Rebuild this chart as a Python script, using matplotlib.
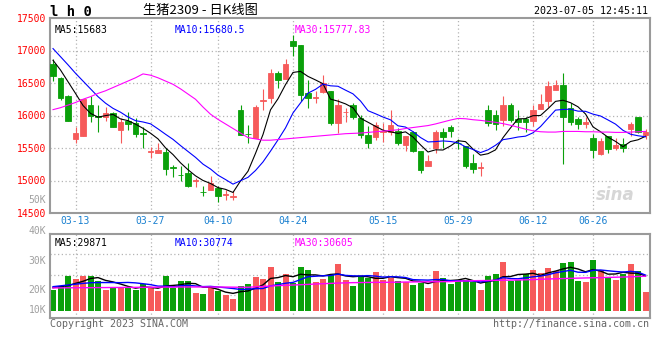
import numpy as np
import pandas as pd
import matplotlib
matplotlib.use('Agg')
import matplotlib.pyplot as plt

# daily K data, 2023-03-08 .. 2023-07-05 (80 sessions)
opens = [16796, 16577, 16296, 15638, 15689, 16158, 15995, 15980, 16041, 15776,
         15914, 15878, 15725, 15440, 15429, 15445, 15200, 15087, 15118, 14990,
         14825, 14848, 14883, 14776, 14751, 16092, 15720, 15649, 16230, 16276,
         16653, 16556, 17153, 17077, 16347, 16271, 16362, 16373, 15888, 16051,
         16158, 15965, 15700, 15674, 15745, 15750, 15761, 15546, 15740, 15455,
         15230, 15496, 15740, 15817, 15577, 15531, 15266, 15195, 16092, 16005,
         15929, 16169, 15939, 15939, 15914, 16097, 16220, 16388, 16464, 16108,
         15939, 15868, 15649, 15404, 15684, 15496, 15562, 15791, 15980, 15700]
highs = [16872, 16590, 16322, 15827, 16260, 16296, 16169, 16133, 16056, 15954,
         16056, 15965, 15827, 15521, 15572, 15506, 15240, 15225, 15266, 15036,
         14909, 15072, 14909, 14858, 14832, 16158, 15853, 16169, 16414, 16720,
         16679, 16862, 17245, 17077, 16541, 16373, 16628, 16373, 16260, 16118,
         16199, 16005, 15837, 15903, 15878, 16082, 15801, 15689, 15761, 15455,
         15394, 15776, 15801, 15853, 15638, 15531, 15404, 15291, 16158, 16082,
         16296, 16199, 16092, 15980, 16169, 16337, 16526, 16541, 16658, 16199,
         15980, 15980, 15715, 15649, 15684, 15659, 15649, 15893, 15980, 15791]
lows = [16526, 16235, 15914, 15572, 15689, 15903, 15740, 15914, 15817, 15572,
        15776, 15674, 15495, 15352, 15419, 15087, 15047, 14996, 14894, 14894,
        14756, 14848, 14664, 14705, 14695, 15700, 15572, 15649, 16082, 16194,
        16424, 16556, 16923, 16220, 16108, 16194, 16352, 15853, 15735, 15903,
        15944, 15659, 15506, 15623, 15597, 15700, 15546, 15455, 15434, 15123,
        15230, 15419, 15506, 15674, 15480, 15190, 15123, 15062, 15842, 15776,
        15842, 15903, 15776, 15740, 15842, 16097, 16133, 16388, 15256, 15852,
        15791, 15812, 15353, 15394, 15429, 15470, 15445, 15689, 15725, 15638]
closes = [16602, 16271, 15914, 15735, 16250, 15995, 15980, 16031, 15827, 15903,
          15863, 15710, 15710, 15450, 15470, 15174, 15190, 15077, 14919, 15000,
          14817, 14960, 14756, 14786, 14761, 15700, 15710, 16128, 16240, 16658,
          16551, 16796, 17066, 16322, 16271, 16281, 16505, 15878, 16169, 16061,
          15980, 15700, 15572, 15853, 15765, 15853, 15582, 15689, 15455, 15164,
          15302, 15750, 15674, 15766, 15570, 15230, 15179, 15205, 15878, 15863,
          16169, 15929, 15903, 15893, 16092, 16184, 16454, 16464, 15980, 15903,
          15868, 15903, 15470, 15608, 15480, 15547, 15496, 15868, 15740, 15750]
volumes = [22683, 24797, 29512, 28049, 29512, 29512, 27073, 22683, 24309, 24309,
           23821, 22683, 25447, 23496, 22195, 29512, 23821, 27073, 27073, 21382,
           20569, 23821, 22195, 20244, 18293, 24634, 25610, 29187, 28049, 34065,
           26748, 30650, 26260, 34065, 32439, 26748, 28049, 30000, 35366, 27561,
           24797, 29512, 28374, 31626, 27561, 28699, 27236, 26748, 25122, 26260,
           23821, 31951, 28699, 25773, 27561, 27561, 26748, 22683, 29512, 30488,
           36341, 27236, 27561, 30488, 32439, 31138, 33415, 31951, 35854, 36341,
           27073, 26585, 37317, 32276, 28699, 27561, 30650, 35366, 31951, 21870]

# moving-average values before a full window exists
ma5_head = [16850, 16700, 16520, 16340]
ma10_head = [17030, 16905, 16780, 16650, 16530, 16410, 16290, 16190, 16110]
ma30 = [16090, 16120, 16160, 16200, 16250, 16290, 16340, 16380, 16430, 16480,
        16530, 16580, 16640, 16620, 16580, 16530, 16480, 16410, 16330, 16250,
        16130, 16020, 15940, 15870, 15800, 15730, 15660, 15640, 15620, 15620,
        15630, 15640, 15650, 15660, 15670, 15680, 15690, 15700, 15710, 15720,
        15725, 15730, 15740, 15750, 15760, 15770, 15780, 15800, 15815, 15830,
        15845, 15870, 15900, 15930, 15955, 15950, 15935, 15925, 15910, 15895,
        15875, 15850, 15820, 15790, 15765, 15750, 15745, 15745, 15755, 15755,
        15755, 15750, 15750, 15745, 15745, 15740, 15740, 15745, 15750, 15755]
vma5_head = [23800, 24300, 24800, 25900]
vma10_head = [24300, 24700, 25100, 25500, 25900, 26200, 26300, 26300, 26300]
vma30 = [23700, 23700, 23750, 23750, 23800, 23800, 23850, 23850, 23900, 23900,
         23950, 23950, 24000, 24000, 24050, 24100, 24100, 24150, 24150, 24150,
         24150, 24150, 24100, 24100, 24050, 24000, 24000, 24200, 24400, 24600,
         24800, 24950, 25100, 25250, 25400, 25600, 25750, 25900, 26050, 26150,
         26260, 26300, 26350, 26400, 26400, 26450, 26500, 26550, 26600, 26650,
         26700, 26700, 26750, 26750, 27000, 27100, 27200, 27250, 27300, 27400,
         27450, 27500, 27550, 27650, 27750, 27900, 28050, 28150, 28250, 28350,
         28450, 28550, 28650, 28700, 28800, 28900, 29000, 29100, 29250, 29400]

tick_idx = [3, 13, 22, 32, 44, 54, 64, 72]
tick_labels = ['03-13', '03-27', '04-10', '04-24', '05-15', '05-29', '06-12', '06-26']
price_ticks = [14500, 15000, 15500, 16000, 16500, 17000, 17500]

RED = '#f65a5a'
GREEN = '#0aa00a'
DATE_BLUE = '#1a80d0'
FRAME = '#9a9a9a'
GRID = '#b4b4b4'
MONO = 'DejaVu Sans Mono'


def rolling_with_head(values, n, head):
    s = pd.Series(values, dtype=float).rolling(n).mean()
    s.iloc[:len(head)] = head
    return s.values


ma5 = rolling_with_head(closes, 5, ma5_head)
ma10 = rolling_with_head(closes, 10, ma10_head)
vma5 = rolling_with_head(volumes, 5, vma5_head)
vma10 = rolling_with_head(volumes, 10, vma10_head)

x = np.arange(len(closes))
o = np.array(opens)
c = np.array(closes)
up = c >= o
colors = np.where(up, RED, GREEN)

W, H = 660, 360
fig = plt.figure(figsize=(6.6, 3.6), dpi=100)


def rect(x0, y0, x1, y1):
    return [x0 / W, 1 - y1 / H, (x1 - x0) / W, (y1 - y0) / H]


ax = fig.add_axes(rect(50, 18, 650, 213))
axv = fig.add_axes(rect(50, 234, 650, 318))

for a in (ax, axv):
    a.set_xlim(-0.4, 79.6)
    for sp in a.spines.values():
        sp.set_color(FRAME)
        sp.set_linewidth(1.5)
    a.tick_params(length=0)
    for t in tick_idx:
        a.axvline(t, color=GRID, lw=0.9, ls=(0, (1, 2)), zorder=0)

# price panel
ax.set_ylim(14500, 17500)
for p in price_ticks[1:-1]:
    ax.axhline(p, color=GRID, lw=0.9, ls=(0, (1, 2)), zorder=0)
ax.vlines(x, lows, highs, colors=colors, lw=0.8, zorder=2)
ax.bar(x, np.abs(c - o), bottom=np.minimum(o, c), width=0.78,
       color=colors, edgecolor=colors, linewidth=0.6, zorder=3)
ax.plot(x, ma5, color='black', lw=0.8, zorder=4)
ax.plot(x, ma10, color='#0000ff', lw=0.8, zorder=4)
ax.plot(x, ma30, color='#ff00ff', lw=0.8, zorder=4)

ax.set_yticks(price_ticks)
ax.set_yticklabels([str(p) for p in price_ticks], color='#ff0000',
                   fontsize=7, family=MONO)
ax.tick_params(axis='y', pad=3)
ax.set_xticks(tick_idx)
ax.set_xticklabels(tick_labels, color=DATE_BLUE, fontsize=7, family=MONO)
ax.tick_params(axis='x', pad=2.5)

ax.text(0.008, 0.965, 'MA5:15683', transform=ax.transAxes, fontsize=7,
        family=MONO, color='black', va='top')
ax.text(0.208, 0.965, 'MA10:15680.5', transform=ax.transAxes, fontsize=7,
        family=MONO, color='#0000ff', va='top')
ax.text(0.408, 0.965, 'MA30:15777.83', transform=ax.transAxes, fontsize=7,
        family=MONO, color='#ff00ff', va='top')
ax.text(0.975, 0.09, 'sina', transform=ax.transAxes, fontsize=12,
        style='italic', weight='bold', color='#d6d6d6', ha='right', va='center')

# volume panel
axv.set_ylim(9000, 50000)
for v in (20000, 30000, 40000):
    axv.axhline(v, color=GRID, lw=0.9, ls=(0, (1, 2)), zorder=0)
vol_floor = 12400
axv.bar(x, np.array(volumes) - vol_floor, bottom=vol_floor, width=0.8,
        color=colors, zorder=2)
axv.plot(x, vma5, color='black', lw=1.0, zorder=3)
axv.plot(x, vma10, color='#0000ff', lw=1.0, zorder=3)
axv.plot(x, vma30, color='#ff00ff', lw=1.0, zorder=3)
axv.set_xticks([])
axv.set_yticks([])
axv.text(0.008, 0.95, 'MA5:29871', transform=axv.transAxes, fontsize=7,
         family=MONO, color='black', va='top')
axv.text(0.208, 0.95, 'MA10:30774', transform=axv.transAxes, fontsize=7,
         family=MONO, color='#0000ff', va='top')
axv.text(0.408, 0.95, 'MA30:30605', transform=axv.transAxes, fontsize=7,
         family=MONO, color='#ff00ff', va='top')

# volume scale labels, placed where the source draws them
for lab, ypx in [('50K', 200), ('40K', 231), ('30K', 261), ('20K', 290), ('10K', 310)]:
    fig.text(46 / W, 1 - ypx / H, lab, fontsize=7, family=MONO,
             color='#a0a0a0', ha='right', va='center')

# header and footer
fig.text(50 / W, 1 - 11.5 / H, 'l h 0', fontsize=10, family=MONO,
         weight='bold', ha='left', va='center')
fig.text(200 / W, 1 - 10.5 / H, '生猪2309 - 日K线图', fontsize=9.5,
         family=['Noto Sans CJK SC', 'DejaVu Sans'], ha='center', va='center')
fig.text(648 / W, 1 - 11.5 / H, '2023-07-05 12:45:11', fontsize=7.2,
         family=MONO, ha='right', va='center')
fig.text(50 / W, 1 - 324 / H, 'Copyright 2023 SINA.COM', fontsize=7.2,
         family=MONO, color='#666666', ha='left', va='center')
fig.text(649 / W, 1 - 324 / H, 'http://finance.sina.com.cn', fontsize=7.2,
         family=MONO, color='#666666', ha='right', va='center')

fig.savefig('out.png', dpi=100, facecolor='white')
